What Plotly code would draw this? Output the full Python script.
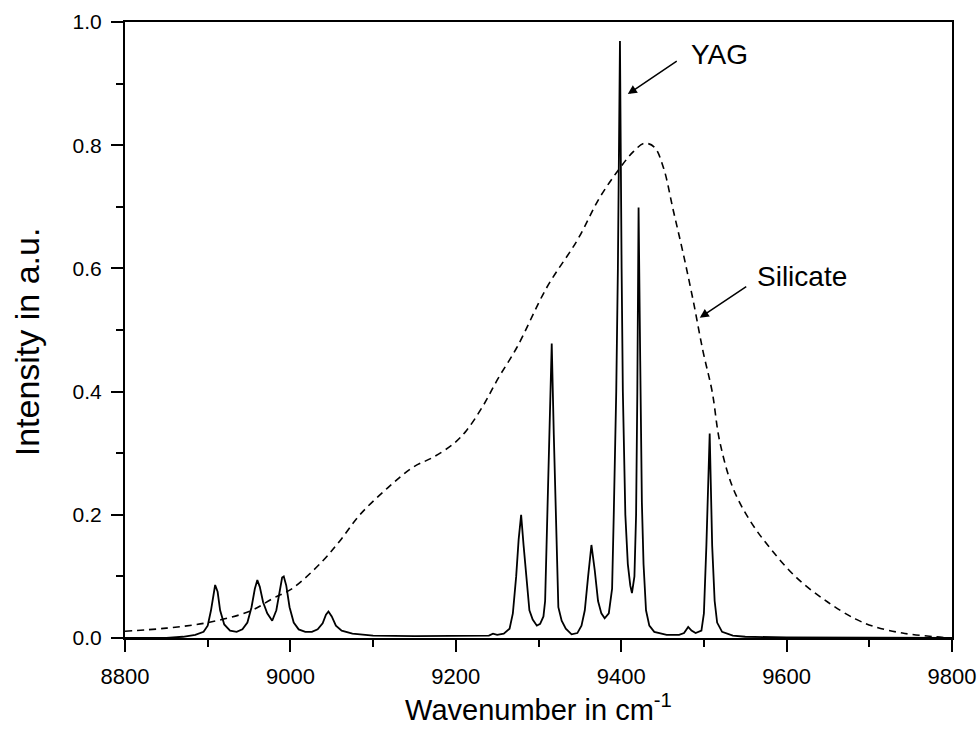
import plotly.graph_objects as go

# YAG spectrum (solid line)
yag_x = [8800, 8850, 8870, 8885, 8895, 8900, 8904, 8907, 8909, 8912, 8915, 8920, 8927, 8935,
         8942, 8948, 8953, 8957, 8960, 8963, 8967, 8972, 8978, 8983, 8987, 8990, 8992, 8995,
         8999, 9004, 9010, 9018, 9026, 9033, 9039, 9043, 9046, 9050, 9055, 9062, 9075, 9100,
         9150, 9200, 9240, 9245, 9250, 9258, 9265, 9269, 9273, 9276, 9279, 9282, 9285, 9289,
         9293, 9298, 9302, 9306, 9308, 9310.5, 9313, 9316, 9318.5, 9321, 9324, 9328, 9333,
         9340, 9347, 9352, 9356, 9360, 9364, 9368, 9372, 9376, 9380, 9385, 9389, 9391, 9394,
         9396, 9398.5, 9400.5, 9402, 9405, 9408, 9411, 9413, 9416, 9418, 9419.5, 9421, 9423,
         9425, 9427, 9430, 9434, 9440, 9455, 9470, 9476, 9481, 9485, 9490, 9497, 9500, 9503,
         9507, 9510, 9513, 9516, 9522, 9535, 9550, 9600, 9700, 9800]
yag_y = [0.000, 0.000, 0.002, 0.005, 0.010, 0.020, 0.045, 0.075, 0.086, 0.075, 0.045, 0.022, 0.012, 0.010,
         0.014, 0.025, 0.050, 0.080, 0.094, 0.083, 0.058, 0.040, 0.028, 0.045, 0.075, 0.098, 0.100, 0.085,
         0.050, 0.025, 0.014, 0.010, 0.010, 0.014, 0.024, 0.038, 0.043, 0.035, 0.020, 0.012, 0.007, 0.004,
         0.003, 0.003, 0.004, 0.007, 0.005, 0.007, 0.015, 0.040, 0.100, 0.160, 0.200, 0.150, 0.100, 0.045,
         0.030, 0.020, 0.023, 0.035, 0.060, 0.200, 0.350, 0.478, 0.330, 0.200, 0.050, 0.028, 0.015,
         0.006, 0.008, 0.020, 0.045, 0.100, 0.151, 0.110, 0.060, 0.040, 0.032, 0.040, 0.080, 0.200, 0.400,
         0.600, 0.969, 0.600, 0.400, 0.200, 0.120, 0.085, 0.073, 0.100, 0.200, 0.400, 0.699, 0.450,
         0.220, 0.120, 0.045, 0.020, 0.010, 0.005, 0.005, 0.008, 0.018, 0.012, 0.008, 0.012, 0.040, 0.150,
         0.332, 0.150, 0.060, 0.025, 0.010, 0.004, 0.002, 0.001, 0.000, 0.000]

# Silicate spectrum (dashed line)
sil_x = [8800, 8850, 8900, 8950, 8980, 9003, 9039, 9060, 9084, 9117, 9148, 9172, 9197, 9213,
         9233, 9251, 9274, 9310, 9347, 9374, 9399, 9415, 9428, 9440, 9451, 9463, 9475, 9487,
         9499, 9510, 9519, 9535, 9556, 9580, 9612, 9650, 9683, 9705, 9740, 9780, 9800]
sil_y = [0.011, 0.016, 0.025, 0.043, 0.065, 0.081, 0.125, 0.158, 0.200, 0.243, 0.277, 0.293, 0.315, 0.337,
         0.377, 0.421, 0.472, 0.569, 0.646, 0.715, 0.764, 0.790, 0.803, 0.797, 0.764, 0.694, 0.624, 0.548,
         0.465, 0.400, 0.320, 0.244, 0.190, 0.146, 0.098, 0.058, 0.031, 0.019, 0.008, 0.002, 0.000]

x_ticks = [8800, 9000, 9200, 9400, 9600, 9800]
y_ticks = [0.0, 0.2, 0.4, 0.6, 0.8, 1.0]

fig = go.Figure()
fig.add_trace(go.Scatter(x=sil_x, y=sil_y, mode="lines", line_shape="spline",
                         line=dict(color="black", width=1.6, dash="7px,5px"), showlegend=False))
fig.add_trace(go.Scatter(x=yag_x, y=yag_y, mode="lines",
                         line=dict(color="black", width=1.8), showlegend=False))

font = "Arial, Liberation Sans, sans-serif"
fig.update_layout(
    width=979, height=733,
    margin=dict(l=125, r=27, t=22, b=95, autoexpand=False),
    paper_bgcolor="white", plot_bgcolor="white",
    font=dict(family=font, color="black", size=21),
)
fig.update_xaxes(range=[8800, 9800], tickvals=x_ticks, ticktext=[str(v) for v in x_ticks],
                 showline=True, linecolor="black", linewidth=2, mirror=True, automargin=False,
                 ticks="outside", ticklen=12, tickwidth=2, tickcolor="black",
                 minor=dict(ticks="outside", ticklen=7, tickwidth=2, tickcolor="black", dtick=100),
                 showgrid=False, zeroline=False, tickfont=dict(size=22), ticklabelstandoff=6,
                 title=dict(text="Wavenumber in cm<sup>-1</sup>", font=dict(size=29), standoff=8))
fig.update_yaxes(range=[0, 1], tickvals=y_ticks, ticktext=[f"{v:.1f}" for v in y_ticks],
                 showline=True, linecolor="black", linewidth=2, mirror=True, automargin=False,
                 ticks="outside", ticklen=12, tickwidth=2, tickcolor="black",
                 minor=dict(ticks="outside", ticklen=7, tickwidth=2, tickcolor="black", dtick=0.1),
                 showgrid=False, zeroline=False, tickfont=dict(size=21), ticklabelstandoff=5)

# Y axis title
fig.add_annotation(x=-0.1185, y=0.48, xref="paper", yref="paper", text="Intensity in a.u.",
                   textangle=-90, showarrow=False, xanchor="center", yanchor="middle",
                   font=dict(size=34, family=font))

# Arrows and labels
fig.add_annotation(x=9408, y=0.883, ax=9469, ay=0.938, xref="x", yref="y", axref="x", ayref="y",
                   text="", showarrow=True, arrowhead=2, arrowsize=1.2, arrowwidth=1.5, arrowcolor="black")
fig.add_annotation(x=9519, y=0.948, xref="x", yref="y", text="YAG", showarrow=False,
                   font=dict(size=28, family=font))
fig.add_annotation(x=9495, y=0.520, ax=9553, ay=0.572, xref="x", yref="y", axref="x", ayref="y",
                   text="", showarrow=True, arrowhead=2, arrowsize=1.2, arrowwidth=1.5, arrowcolor="black")
fig.add_annotation(x=9619, y=0.587, xref="x", yref="y", text="Silicate", showarrow=False,
                   font=dict(size=28, family=font))

fig.write_html("out.html", config={"displayModeBar": False},
               post_script="document.body.style.margin='0px';")
